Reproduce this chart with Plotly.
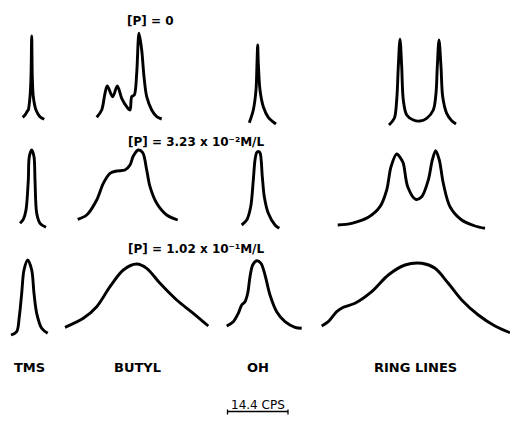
import plotly.graph_objects as go

# Traced NMR absorption curves: chart-frame x (sweep) and y (pen, measured downward)
# Row 1: [P] = 0
tms_0_x = [22.7, 25.0, 27.7, 28.3, 30.0, 31.0, 31.7, 32.3, 33.3, 36.0, 40.0, 44.3]
tms_0_y = [117.3, 115.0, 110.7, 110.0, 96.7, 76.7, 36.0, 76.7, 96.7, 110.0, 116.7, 119.3]
butyl_0_x = [96.7, 101.7, 105.0, 107.3, 112.7, 117.3, 121.7, 126.7, 130.0, 131.7, 134.3,
             136.7, 139.0, 141.7, 144.0, 146.7, 151.7, 156.7, 161.7]
butyl_0_y = [117.3, 110.0, 93.3, 86.0, 96.7, 86.0, 98.3, 106.7, 110.0, 96.7, 95.0,
             73.3, 33.3, 50.0, 76.7, 96.7, 110.0, 116.7, 119.0]
oh_0_x = [249.3, 253.3, 256.0, 257.0, 257.7, 258.3, 260.0, 263.3, 268.3, 276.0]
oh_0_y = [122.7, 110.0, 90.0, 63.0, 45.0, 63.0, 90.0, 106.7, 117.3, 124.0]
ring_0_x = [389.0, 394.3, 396.7, 398.3, 400.0, 401.7, 403.3, 406.7, 413.3, 420.0, 426.7,
            433.3, 436.0, 437.3, 439.0, 441.0, 442.7, 446.7, 451.7, 456.0]
ring_0_y = [125.0, 118.3, 100.0, 66.7, 39.3, 66.7, 100.0, 115.0, 120.0, 121.0, 118.3,
            110.0, 93.3, 66.7, 40.0, 66.7, 96.7, 113.3, 120.7, 124.0]

# Row 2: [P] = 3.23 x 10^-2 M/L
tms_1_x = [20.0, 23.3, 26.0, 28.3, 29.3, 31.7, 34.0, 35.0, 36.7, 40.0, 46.0]
tms_1_y = [223.3, 219.3, 210.0, 180.0, 156.7, 150.0, 156.7, 180.0, 213.3, 223.3, 227.3]
butyl_1_x = [77.7, 86.7, 96.7, 103.3, 110.0, 116.7, 125.0, 130.0, 133.3, 138.3, 142.7,
             146.7, 150.0, 156.7, 166.7, 177.7]
butyl_1_y = [219.3, 215.0, 200.0, 183.3, 173.3, 171.0, 170.0, 165.0, 156.0, 150.0, 152.7,
             170.0, 186.7, 203.3, 215.0, 220.0]
oh_1_x = [241.7, 246.7, 250.7, 253.3, 255.0, 256.7, 258.3, 260.0, 262.3, 264.3, 268.3,
          275.0, 279.3]
oh_1_y = [225.0, 220.0, 206.7, 180.0, 160.0, 152.5, 151.5, 152.7, 176.7, 196.7, 213.3,
          225.0, 228.3]
ring_1_x = [337.7, 351.7, 368.3, 380.0, 386.7, 391.0, 396.7, 400.7, 403.3, 407.7, 415.7,
            421.7, 428.3, 432.3, 435.7, 439.3, 443.3, 450.0, 461.7, 475.0, 485.0]
ring_1_y = [225.0, 223.3, 217.3, 206.7, 190.0, 166.7, 154.0, 158.3, 163.3, 186.7, 199.3,
            196.7, 180.0, 160.0, 150.7, 160.0, 183.3, 206.7, 220.0, 226.0, 228.3]

# Row 3: [P] = 1.02 x 10^-1 M/L
tms_2_x = [11.0, 16.7, 19.3, 21.7, 24.0, 27.7, 31.7, 34.0, 36.7, 41.7, 47.7]
tms_2_y = [335.0, 331.7, 316.7, 293.3, 270.0, 260.0, 270.0, 293.3, 313.3, 328.3, 333.3]
butyl_2_x = [65.0, 83.3, 96.7, 110.0, 123.3, 136.7, 146.7, 160.0, 176.7, 193.3, 208.3]
butyl_2_y = [327.3, 318.3, 306.7, 286.7, 270.0, 264.0, 268.3, 283.3, 300.0, 313.3, 326.0]
oh_2_x = [226.7, 233.3, 238.3, 241.7, 245.0, 247.7, 250.0, 252.7, 256.7, 261.0, 265.0,
          270.0, 276.7, 285.0, 295.0, 301.7]
oh_2_y = [326.0, 321.7, 313.3, 305.0, 301.7, 293.3, 276.7, 265.0, 260.7, 263.3, 275.0,
          295.0, 311.7, 321.7, 327.3, 328.3]
ring_2_x = [321.7, 328.3, 336.7, 343.3, 355.0, 371.7, 388.3, 405.0, 421.7, 435.0, 448.3,
            461.7, 478.3, 495.0, 510.0]
ring_2_y = [326.0, 321.7, 311.7, 307.3, 303.3, 291.7, 275.0, 265.0, 263.3, 268.3, 283.3,
            300.0, 315.0, 326.0, 332.7]

curves = [
    (tms_0_x, tms_0_y), (butyl_0_x, butyl_0_y), (oh_0_x, oh_0_y), (ring_0_x, ring_0_y),
    (tms_1_x, tms_1_y), (butyl_1_x, butyl_1_y), (oh_1_x, oh_1_y), (ring_1_x, ring_1_y),
    (tms_2_x, tms_2_y), (butyl_2_x, butyl_2_y), (oh_2_x, oh_2_y), (ring_2_x, ring_2_y),
]

# Text labels
conc_labels = ["[P] = 0",
               "[P] = 3.23 x 10\u207b\u00b2M/L",
               "[P] = 1.02 x 10\u207b\u00b9M/L"]
conc_label_pos = [(150, 21), (196, 142), (196, 249)]
group_labels = ["TMS", "BUTYL", "OH", "RING LINES"]
group_label_x = [29, 137, 258, 415]
group_label_y = 367
scale_label = "14.4 CPS"
scale_bar_x = [227.5, 288.0]
scale_bar_y = 411.5

FONT = "DejaVu Sans"

fig = go.Figure()
for cx, cy in curves:
    fig.add_trace(go.Scatter(
        x=cx, y=cy, mode="lines",
        line=dict(color="black", width=2.9, shape="spline", smoothing=0.9),
        hoverinfo="skip", showlegend=False,
    ))

# Frequency scale bar with end ticks
x0, x1 = scale_bar_x
fig.add_trace(go.Scatter(
    x=[x0, x0, x0, None, x0, x1, None, x1, x1],
    y=[scale_bar_y - 2, scale_bar_y + 3, scale_bar_y, None, scale_bar_y, scale_bar_y, None,
       scale_bar_y - 2, scale_bar_y + 3],
    mode="lines", line=dict(color="black", width=1.3),
    hoverinfo="skip", showlegend=False,
))

for txt, (tx, ty) in zip(conc_labels, conc_label_pos):
    fig.add_annotation(x=tx, y=ty, text=txt, showarrow=False,
                       font=dict(family=FONT, size=12, color="black", weight="bold"))
for txt, tx in zip(group_labels, group_label_x):
    fig.add_annotation(x=tx, y=group_label_y, text=txt, showarrow=False,
                       font=dict(family=FONT, size=13, color="black", weight="bold"))
fig.add_annotation(x=(x0 + x1) / 2, y=scale_bar_y - 7, text=scale_label, showarrow=False,
                   font=dict(family=FONT, size=12, color="black"))

fig.update_layout(
    width=510, height=426,
    margin=dict(l=0, r=0, t=0, b=0),
    paper_bgcolor="white", plot_bgcolor="white",
    xaxis=dict(range=[0, 510], visible=False, fixedrange=True),
    yaxis=dict(range=[426, 0], visible=False, fixedrange=True),
)

fig.write_html("out.html")
